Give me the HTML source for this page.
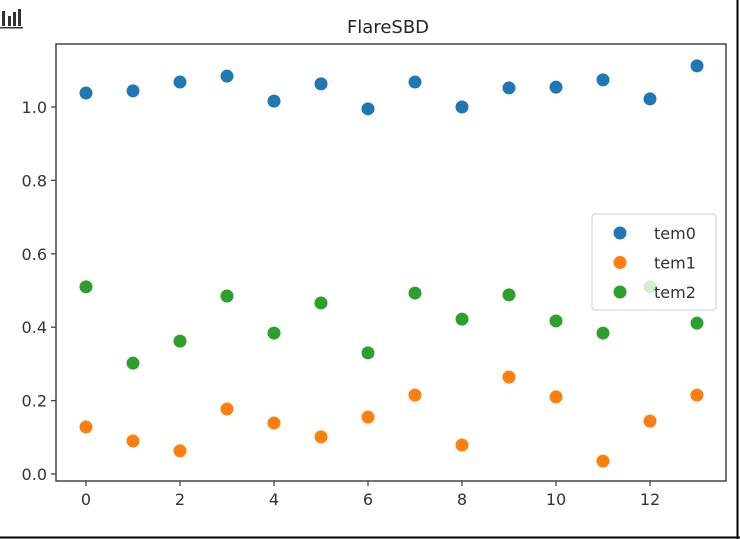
<!DOCTYPE html>
<html><head><meta charset="utf-8"><style>
html,body{margin:0;padding:0;background:#fff;}
svg{display:block;font-family:"DejaVu Sans","Liberation Sans",sans-serif;}
</style></head><body>
<svg id="chart" width="740" height="539" xmlns="http://www.w3.org/2000/svg">
<rect x="0" y="0" width="740" height="539" fill="#fff"/>
<line x1="0" y1="537.5" x2="740" y2="537.5" stroke="#000" stroke-width="2"/>
<line x1="737.5" y1="0" x2="737.5" y2="539" stroke="#000" stroke-width="2"/>
<g fill="#333">
<rect x="2" y="11" width="3" height="15"/><rect x="8" y="16" width="3" height="10"/><rect x="13" y="12" width="3" height="14"/><rect x="18" y="9" width="3" height="17"/><rect x="0" y="27" width="23" height="1.5"/>
</g>
<text x="388" y="33" text-anchor="middle" font-size="18" fill="#262626">FlareSBD</text>
<g id="axes"></g>
<g id="marks"></g>
<g id="legend"></g>
</svg>
<script>
const categories = [0,1,2,3,4,5,6,7,8,9,10,11,12,13];
const tem0 = [1.038,1.044,1.068,1.084,1.016,1.063,0.995,1.068,1.0,1.052,1.054,1.074,1.022,1.112];
const tem1 = [0.128,0.09,0.063,0.177,0.139,0.101,0.155,0.215,0.079,0.264,0.210,0.035,0.144,0.215];
const tem2 = [0.51,0.302,0.362,0.485,0.384,0.466,0.33,0.493,0.422,0.488,0.417,0.384,0.51,0.411];
const xTicks = [0,2,4,6,8,10,12];
const yTicks = [0.0,0.2,0.4,0.6,0.8,1.0];
const seriesNames = ["tem0","tem1","tem2"];
const colors = ["#1f77b4","#ff7f0e","#2ca02c"];

const NS="http://www.w3.org/2000/svg";
const L=56,R=726,T=44,B=481;
function xs(v){return 86+v*47;}
function ys(v){return 474-v*367;}
function mk(tag,attrs,parent){const e=document.createElementNS(NS,tag);for(const k in attrs)e.setAttribute(k,attrs[k]);parent.appendChild(e);return e;}
const axes=document.getElementById('axes'),marks=document.getElementById('marks'),legend=document.getElementById('legend');

xTicks.forEach(t=>{
  const g=mk('g',{},axes);
  
  
  mk('line',{x1:xs(t),x2:xs(t),y1:B,y2:B+5,stroke:'#444','stroke-width':1.3},g);
  const tx=mk('text',{x:xs(t),y:B+24,'text-anchor':'middle','font-size':16,fill:'#333'},g);tx.textContent=t;
});
yTicks.forEach(t=>{
  const g=mk('g',{},axes);
  
  
  mk('line',{x1:L-5,x2:L,y1:ys(t),y2:ys(t),stroke:'#444','stroke-width':1.3},g);
  const tx=mk('text',{x:L-9,y:ys(t)+6,'text-anchor':'end','font-size':16,fill:'#333'},g);tx.textContent=t.toFixed(1);
});
const frame=mk('rect',{x:L,y:T,width:R-L,height:B-T,fill:'none',stroke:'#444','stroke-width':1.5},axes);



[tem0,tem1,tem2].forEach((arr,si)=>{
  arr.forEach((v,i)=>{
    const c=mk('circle',{cx:xs(categories[i]),cy:ys(v),r:6.5,fill:colors[si]},marks);
    
    
  });
});

const lb=mk('rect',{x:592,y:214,width:124,height:96,rx:3,fill:'rgba(255,255,255,0.8)',stroke:'#ccc','stroke-width':1},legend);


seriesNames.forEach((n,i)=>{
  const g=mk('g',{},legend);
  
  
  const y=233+i*29.5;
  mk('circle',{cx:620,cy:y,r:6.5,fill:colors[i]},g);
  const tx=mk('text',{x:654,y:y+6,'font-size':16,fill:'#333'},g);tx.textContent=n;
});
</script>
</body></html>
